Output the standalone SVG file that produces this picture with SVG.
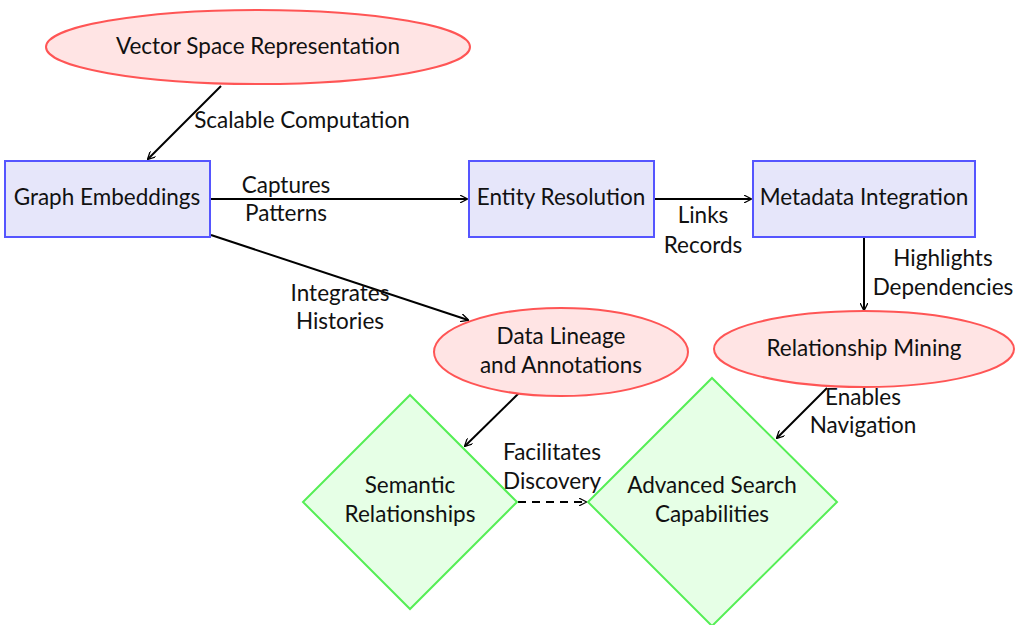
<svg xmlns="http://www.w3.org/2000/svg" width="1020" height="625" viewBox="0 0 1020 625">
  <defs>
    <marker id="arrow" viewBox="0 0 10 10" refX="9" refY="5" markerWidth="8" markerHeight="8" markerUnits="userSpaceOnUse" orient="auto">
      <path d="M0,0 L10,5 L0,10" fill="none" stroke="#000" stroke-width="1.6"/>
    </marker>
    <style>
      text { font-family: Lato, "Liberation Sans", sans-serif; font-size: 22.5px; fill: #111; text-anchor: middle; dominant-baseline: central; }
      .ellipse { fill: #ffe4e4; stroke: #ff5555; stroke-width: 2; }
      .rect { fill: #e6e6fa; stroke: #5555ff; stroke-width: 2; }
      .diamond { fill: #e6ffe6; stroke: #55ee55; stroke-width: 2; }
      .edge { fill: none; stroke: #000; stroke-width: 2; marker-end: url(#arrow); }
      .dashed { stroke-dasharray: 8 6; }
    </style>
  </defs>

  <g id="connectors">
    <line class="edge" x1="221" y1="86" x2="148" y2="159"/>
    <line class="edge" x1="211" y1="199" x2="467" y2="199"/>
    <line class="edge" x1="655" y1="199" x2="751" y2="199"/>
    <line class="edge" x1="864" y1="238" x2="864" y2="310"/>
    <line class="edge" x1="211" y1="235" x2="468" y2="320"/>
    <line class="edge" x1="520" y1="392" x2="465" y2="446"/>
    <line class="edge" x1="827" y1="388" x2="777" y2="438"/>
    <line class="edge dashed" x1="518" y1="502" x2="586" y2="502"/>
    <text x="302" y="119">Scalable Computation</text>
    <text x="286" y="184">Captures</text>
    <text x="286" y="212">Patterns</text>
    <text x="703" y="214">Links</text>
    <text x="703" y="244">Records</text>
    <text x="943" y="257">Highlights</text>
    <text x="943" y="286">Dependencies</text>
    <text x="340" y="292">Integrates</text>
    <text x="340" y="320">Histories</text>
    <text x="863" y="396">Enables</text>
    <text x="863" y="424">Navigation</text>
    <text x="552" y="451">Facilitates</text>
    <text x="552" y="480">Discovery</text>
  </g>

  <g id="vector-space">
    <ellipse class="ellipse" cx="258" cy="47" rx="212" ry="37"/>
    <text x="258" y="45">Vector Space Representation</text>
  </g>
  <g id="graph-embeddings">
    <rect class="rect" x="5" y="161" width="205" height="76"/>
    <text x="107" y="196">Graph Embeddings</text>
  </g>
  <g id="entity-resolution">
    <rect class="rect" x="469" y="161" width="185" height="76"/>
    <text x="561" y="196">Entity Resolution</text>
  </g>
  <g id="metadata-integration">
    <rect class="rect" x="753" y="161" width="222" height="76"/>
    <text x="864" y="196">Metadata Integration</text>
  </g>
  <g id="data-lineage">
    <ellipse class="ellipse" cx="561" cy="352" rx="127" ry="44"/>
    <text x="561" y="335">Data Lineage</text>
    <text x="561" y="364">and Annotations</text>
  </g>
  <g id="relationship-mining">
    <ellipse class="ellipse" cx="864" cy="349" rx="150" ry="38"/>
    <text x="864" y="347">Relationship Mining</text>
  </g>
  <g id="semantic-relationships">
    <polygon class="diamond" points="410,395 517,502 410,609 303,502"/>
    <text x="410" y="484">Semantic</text>
    <text x="410" y="513">Relationships</text>
  </g>
  <g id="advanced-search">
    <polygon class="diamond" points="712,378 837,502 712,626 588,502"/>
    <text x="712" y="484">Advanced Search</text>
    <text x="712" y="513">Capabilities</text>
  </g>
</svg>
